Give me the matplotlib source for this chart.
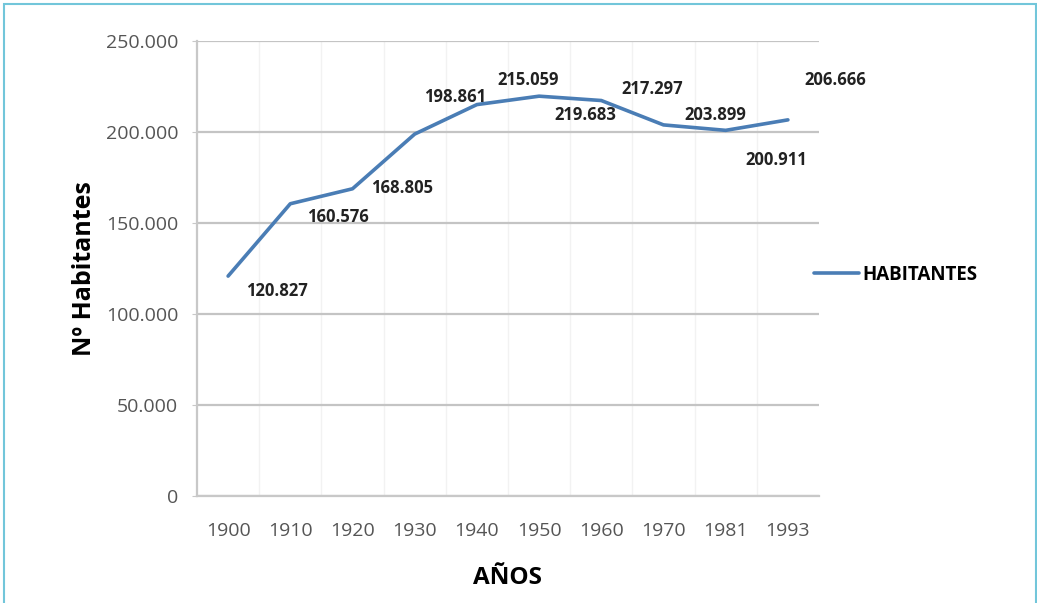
import matplotlib.pyplot as plt
from matplotlib.patches import Rectangle
from matplotlib.ticker import FuncFormatter

# ===== data =====
years = ["1900", "1910", "1920", "1930", "1940", "1950", "1960", "1970", "1981", "1993"]
habitantes = [120827, 160576, 168805, 198861, 215059, 219683, 217297, 203899, 200911, 206666]
labels = ["120.827", "160.576", "168.805", "198.861", "215.059",
          "219.683", "217.297", "203.899", "200.911", "206.666"]

# label offsets in pixels (dx, dy) from each point
label_offsets = [(49, -15), (48, -13), (50, 1), (40, 37), (51, 25),
                 (46, -19), (51, 12), (52, 10), (51, -30), (47, 40)]

plt.rcParams["font.family"] = ["Open Sans", "DejaVu Sans"]

W, H = 1037, 603
fig = plt.figure(figsize=(W / 100, H / 100), dpi=100)
ax = fig.add_axes([197 / W, 1 - 496 / H, (819 - 197) / W, (496 - 41) / H])

x = list(range(len(years)))
line, = ax.plot(x, habitantes, color="#4a7db5", lw=2.6, solid_joinstyle="round",
                solid_capstyle="round", label="HABITANTES", zorder=3)

for xi, yi, lab, (dx, dy) in zip(x, habitantes, labels, label_offsets):
    ax.annotate(lab, (xi, yi), xytext=(dx, dy), textcoords="offset pixels",
                ha="center", va="center", fontsize=12, fontweight="bold",
                color="#222222")

ax.set_xlim(-0.5, len(years) - 0.5)
ax.set_ylim(0, 250000)
ax.set_yticks(range(0, 250001, 50000))
ax.yaxis.set_major_formatter(FuncFormatter(
    lambda v, p: "0" if v == 0 else f"{int(v):,}".replace(",", ".")))
ax.set_xticks(x)
ax.set_xticklabels(years)

# gridlines
ax.grid(axis="y", color="#c4c4c4", lw=1.6, zorder=0)
for b in [i + 0.5 for i in x[:-1]]:
    ax.axvline(b, color="#f2f2f2", lw=1, zorder=0)

for s in ["top", "right"]:
    ax.spines[s].set_visible(False)
ax.spines["left"].set_color("#c8c8c8")
ax.spines["left"].set_linewidth(1.6)
ax.spines["bottom"].set_color("#c8c8c8")
ax.spines["bottom"].set_linewidth(1.6)

ax.tick_params(axis="y", length=3.5, color="#c8c8c8", labelcolor="#555555",
               labelsize=14, pad=10)
ax.tick_params(axis="x", length=0, labelcolor="#555555", labelsize=14, pad=19)

ax.set_ylabel("Nº Habitantes", fontsize=18, fontweight="bold", va="center")
ax.yaxis.set_label_coords(-(197 - 84) / (819 - 197), 0.5)
ax.set_xlabel("AÑOS", fontsize=17.5, fontweight="bold")
ax.xaxis.set_label_coords(0.5, -(578 - 496) / (496 - 41))
ax.xaxis.label.set_va("center")

fig.legend(handles=[line], loc="center left", bbox_to_anchor=(797 / W, 1 - 275 / H),
           frameon=False, handlelength=2.4, handletextpad=0.2,
           prop={"size": 13.5, "weight": "bold"})

# outer light-blue frame
fig.patches.append(Rectangle((4 / W, -0.01), (1032 / W), 1 - 4 / H + 0.01,
                             transform=fig.transFigure, fill=False,
                             edgecolor="#72c6da", lw=1.5))

fig.savefig("out.png", dpi=100)
